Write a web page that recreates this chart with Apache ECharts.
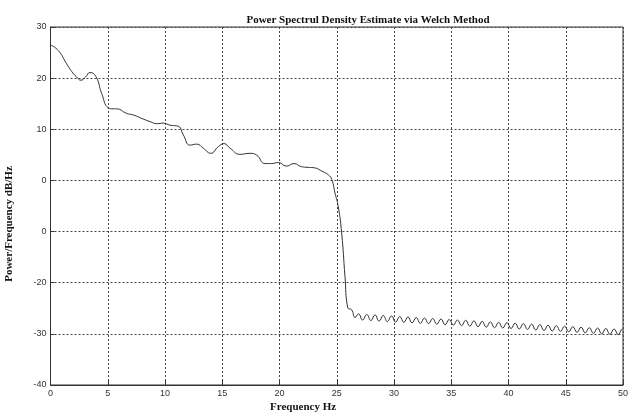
<!DOCTYPE html>
<html>
<head>
<meta charset="utf-8">
<script src="https://cdn.jsdelivr.net/npm/echarts@6/dist/echarts.min.js"></script>
<style>
  html, body { margin: 0; padding: 0; background: #fff; }
  #main { width: 633px; height: 416px; }
</style>
</head>
<body>
<div id="main"></div>
<script>
// frequency (Hz) and PSD (dB/Hz)
const freq = [
  0, 0.68, 1.41, 1.85, 2.25, 2.66, 3.05, 3.45, 3.97, 4.47, 5.05, 5.5, 5.78, 6.65, 7.23, 8.1, 8.7,
  9.28, 9.85, 10.44, 11.16, 11.6, 12.18, 12.77, 13.35, 13.99, 14.66, 15.15, 15.68, 16.55, 17.42,
  18.0, 18.73, 19.3, 19.9, 20.6, 21.27, 21.9, 22.5, 22.95, 23.8, 24.26, 24.56, 24.85, 25.13,
  25.43, 25.72, 25.96, 26.3, 26.6,
  26.9, 27.26, 27.62, 27.98, 28.34, 28.70, 29.06, 29.42, 29.78, 30.14, 30.50, 30.86, 31.22, 31.58,
  31.94, 32.30, 32.66, 33.02, 33.38, 33.74, 34.10, 34.46, 34.82, 35.18, 35.54, 35.90, 36.26, 36.62,
  36.98, 37.34, 37.70, 38.06, 38.42, 38.78, 39.14, 39.50, 39.86, 40.22, 40.58, 40.94, 41.30, 41.66,
  42.02, 42.38, 42.74, 43.10, 43.46, 43.82, 44.18, 44.54, 44.90, 45.26, 45.62, 45.98, 46.34, 46.70,
  47.06, 47.42, 47.78, 48.14, 48.50, 48.86, 49.22, 49.58, 49.94, 50.0
];
const power = [
  26.5, 25.4, 22.8, 21.3, 20.3, 19.6, 20.2, 21.1, 20.3, 17.0, 14.2, 14.0, 14.0, 13.1, 12.8, 12.0, 11.5,
  11.1, 11.2, 10.8, 10.6, 8.9, 6.9, 7.1, 6.3, 5.3, 6.6, 7.2, 6.3, 5.1, 5.3,
  4.95, 3.3, 3.3, 3.5, 2.8, 3.3, 2.7, 2.55, 2.5, 1.7, 1.1, 0.2, -2.5, -5.1,
  -10.3, -18.8, -24.9, -25.3, -26.8,
  -26.1, -27.3, -26.2, -27.4, -26.3, -27.5, -26.4, -27.6, -26.5, -27.7, -26.6, -27.75, -26.7, -27.85,
  -26.8, -27.95, -26.9, -28.0, -27.0, -28.1, -27.1, -28.2, -27.2, -28.3, -27.3, -28.4, -27.35, -28.5,
  -27.45, -28.6, -27.55, -28.7, -27.65, -28.8, -27.75, -28.85, -27.8, -28.95, -27.9, -29.05, -28.0, -29.15,
  -28.1, -29.25, -28.2, -29.35, -28.3, -29.45, -28.4, -29.5, -28.5, -29.6, -28.6, -29.7, -28.7, -29.8,
  -28.8, -29.9, -28.85, -30.0, -28.95, -30.1, -29.05, -30.15, -29.1, -29.2
];
// tick labels as printed in the figure (the -10 tick shows "0")
const yTicks = [-40, -30, -20, -10, 0, 10, 20, 30];
const yTickLabels = ['-40', '-30', '-20', '0', '0', '10', '20', '30'];

const chart = echarts.init(document.getElementById('main'));
const points = freq.map((f, i) => [f, power[i]]);

const gridLine = { show: true, lineStyle: { color: '#444', type: [2, 2], width: 1 } };
const tickFont = { color: '#333', fontFamily: 'Liberation Sans', fontSize: 9 };

chart.setOption({
  animation: false,
  title: {
    text: 'Power Spectrul Density Estimate via Welch Method',
    left: 363, top: 10, textAlign: 'center',
    textStyle: { fontFamily: 'Liberation Serif', fontWeight: 'bold', fontSize: 11, color: '#111' }
  },
  grid: {
    left: 50.5, right: 10, top: 27, bottom: 31,
    show: true, borderColor: '#333', borderWidth: 1
  },
  xAxis: {
    type: 'value', min: 0, max: 50, interval: 5,
    axisLine: { show: true, onZero: false, lineStyle: { color: '#333' } },
    axisTick: { show: true, inside: true, length: 4, lineStyle: { color: '#333' } },
    axisLabel: Object.assign({ margin: 4 }, tickFont),
    splitLine: gridLine
  },
  yAxis: {
    type: 'value', min: -40, max: 30, interval: 10,
    axisLine: { show: true, onZero: false, lineStyle: { color: '#333' } },
    axisTick: { show: true, inside: true, length: 4, lineStyle: { color: '#333' } },
    axisLabel: Object.assign({
      margin: 4,
      formatter: function (v) {
        const i = yTicks.indexOf(Math.round(v));
        return i >= 0 ? yTickLabels[i] : '';
      }
    }, tickFont),
    splitLine: gridLine
  },
  graphic: [
    {
      type: 'text', left: 270, top: 402,
      style: { text: 'Frequency Hz', font: 'bold 11px "Liberation Serif"', fill: '#111' }
    },
    {
      type: 'text', x: 9, y: 224, rotation: Math.PI / 2,
      style: {
        text: 'Power/Frequency dB/Hz', font: 'bold 11px "Liberation Serif"', fill: '#111',
        align: 'center', verticalAlign: 'middle'
      }
    }
  ],
  series: [{
    type: 'line',
    data: points,
    showSymbol: false,
    smooth: 0.5,
    lineStyle: { color: '#333', width: 1 }
  }]
});
window.onresize = function () {
  chart.resize();
};
</script>
</body>
</html>
